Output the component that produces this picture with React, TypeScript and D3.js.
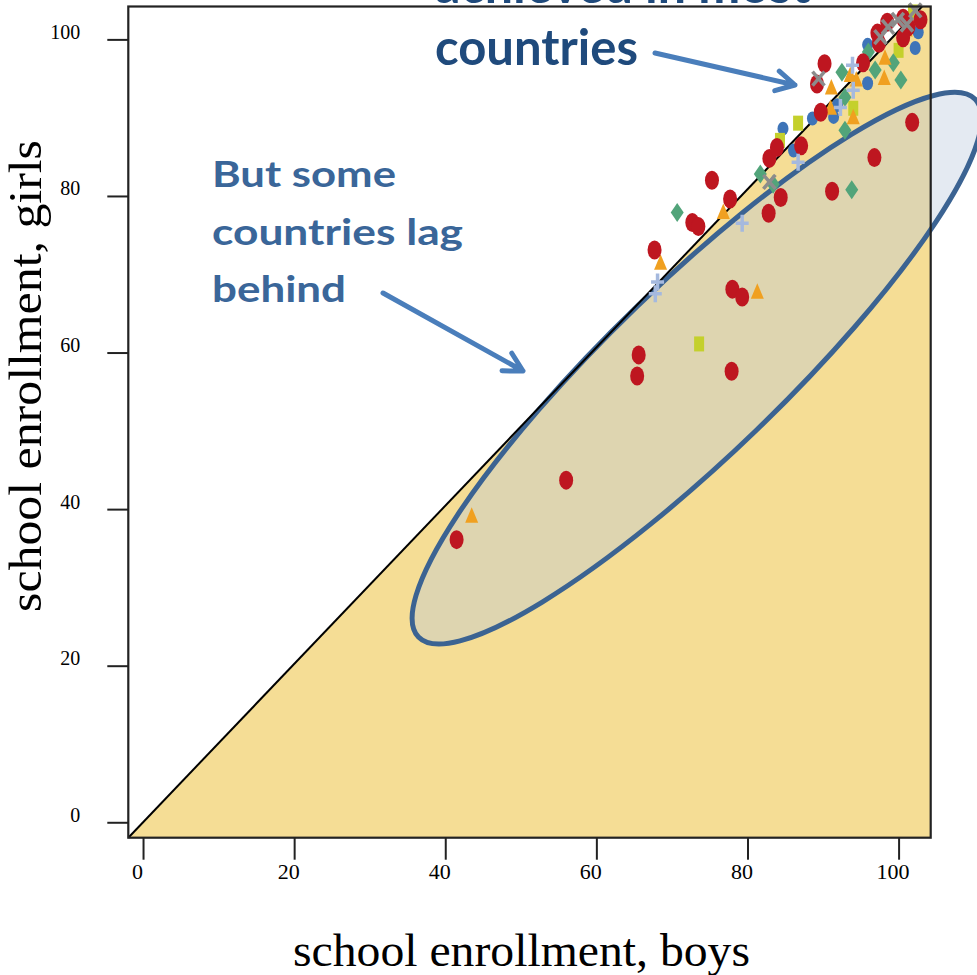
import React, { useEffect, useRef } from 'react'
import * as d3 from 'd3'

// axis ticks
const xTicks = [0, 20, 40, 60, 80, 100]
const yTicks = [0, 20, 40, 60, 80, 100]

// [boys, girls] enrollment per marker group
const redCircles = [
  [41.5, 36.1], [56.0, 43.7], [65.6, 59.7], [65.4, 57.0], [77.9, 57.6], [78.0, 68.1],
  [79.3, 67.1], [67.7, 73.1], [72.7, 76.6], [73.5, 76.1], [75.3, 82.0], [77.7, 79.6],
  [82.8, 77.8], [84.4, 79.8], [82.9, 84.8], [83.9, 86.2], [87.1, 86.4], [91.2, 80.6],
  [96.8, 84.9], [101.8, 89.4], [89.7, 90.7], [89.2, 94.3], [90.2, 96.9], [95.3, 97.0],
  [97.2, 100.8], [98.5, 102.2], [97.4, 99.5], [100.6, 102.7], [101.3, 101.6],
  [100.6, 100.2], [102.9, 102.5],
]
const blueCircles = [
  [84.7, 88.6], [86.1, 85.8], [88.6, 89.9], [91.4, 90.1], [91.9, 91.6], [95.9, 94.4],
  [95.9, 99.3], [102.2, 98.9], [102.6, 100.9],
]
const orangeTriangles = [
  [43.5, 39.1], [68.5, 71.4], [76.8, 77.9], [81.3, 67.7], [91.1, 93.8], [91.0, 91.2],
  [93.6, 95.4], [94.4, 94.8], [98.1, 95.0], [98.2, 97.6], [101.0, 101.2], [94.0, 90.0],
]
const limeSquares = [
  [73.6, 61.1], [86.7, 89.3], [94.0, 91.2], [84.3, 87.1], [100.0, 98.6], [101.9, 103.5],
]
const greenDiamonds = [
  [70.7, 77.9], [81.7, 82.8], [83.4, 81.5], [92.9, 88.4], [93.8, 80.8], [92.5, 95.8],
  [96.0, 98.4], [96.9, 96.1], [99.3, 97.0], [100.3, 94.8], [92.9, 92.6],
]
const lightPlus = [
  [68.1, 69.0], [67.8, 67.5], [79.3, 76.5], [86.7, 84.3], [92.3, 91.3], [93.9, 96.7],
  [94.0, 93.5],
]
const grayCross = [
  [89.4, 95.0], [82.9, 81.8], [97.6, 100.3], [98.6, 101.6], [99.9, 102.5], [101.1, 101.9],
  [102.2, 103.7],
]

export default function App() {
  const ref = useRef<SVGSVGElement>(null)

  useEffect(() => {
    const svg = d3.select(ref.current)
    svg.selectAll('*').remove()

    const x = d3.scaleLinear().domain([-1.95, 104.25]).range([128.3, 930.7])
    const y = d3.scaleLinear().domain([-1.97, 104.2]).range([837.7, 6.5])
    const [x0, x1] = x.range()
    const [y0, y1] = y.range()

    // yellow area under the parity line
    const topX = x(103.1)
    svg.append('path')
      .attr('d', `M${x0},${y0}L${topX},${y1}L${x1},${y1}L${x1},${y0}Z`)
      .attr('fill', '#f5dd95')

    // highlight ellipse
    const ec = { x: x(73.3), y: y(58.0) }
    svg.append('ellipse')
      .attr('transform', `translate(${ec.x},${ec.y}) rotate(-44)`)
      .attr('rx', 387).attr('ry', 86)
      .attr('fill', '#b8c8dc').attr('fill-opacity', 0.38)
      .attr('stroke', '#3b6392').attr('stroke-width', 5)

    svg.append('line')
      .attr('x1', x0).attr('y1', y0).attr('x2', topX).attr('y2', y1)
      .attr('stroke', '#000').attr('stroke-width', 2)

    // markers
    const pts = (data: number[][]) => svg.append('g').selectAll('g').data(data).enter()
      .append('g').attr('transform', d => `translate(${x(d[0])},${y(d[1])})`)

    pts(blueCircles).append('ellipse').attr('rx', 5.5).attr('ry', 7).attr('fill', '#3e74b8')
    pts(limeSquares).append('rect').attr('x', -5).attr('y', -7.5).attr('width', 10).attr('height', 15)
      .attr('fill', '#c4d02c')
    pts(greenDiamonds).append('path').attr('d', 'M0,-9.5L6.5,0L0,9.5L-6.5,0Z').attr('fill', '#52a47a')
    pts(orangeTriangles).append('path').attr('d', 'M0,-9L6.5,6.5L-6.5,6.5Z').attr('fill', '#f0a020')
    pts(redCircles).append('ellipse').attr('rx', 7).attr('ry', 9.5).attr('fill', '#be1620')
    pts(lightPlus).append('path').attr('d', 'M-6.5,0H6.5M0,-8.5V8.5')
      .attr('stroke', '#a5b9de').attr('stroke-width', 3.5).attr('fill', 'none')
    pts(grayCross).append('path').attr('d', 'M-6,-7L6,7M6,-7L-6,7')
      .attr('stroke', '#8c8c8c').attr('stroke-width', 3.5).attr('fill', 'none')

    // frame
    svg.append('rect')
      .attr('x', x0).attr('y', y1).attr('width', x1 - x0).attr('height', y0 - y1)
      .attr('fill', 'none').attr('stroke', '#222').attr('stroke-width', 2.2)

    const serif = '"Liberation Serif", "Times New Roman", serif'

    const xAxis = svg.append('g').attr('transform', `translate(0,${y0})`)
      .call(d3.axisBottom(x).tickValues(xTicks).tickSize(22).tickSizeOuter(0).tickPadding(4))
    xAxis.select('.domain').remove()
    xAxis.selectAll('line').attr('stroke', '#222').attr('stroke-width', 2)
    xAxis.selectAll('text').attr('x', -6).attr('fill', '#000')
      .attr('font-family', serif).attr('font-size', 22)

    const yAxis = svg.append('g').attr('transform', `translate(${x0},0)`)
      .call(d3.axisLeft(y).tickValues(yTicks).tickSize(21).tickSizeOuter(0).tickPadding(27))
    yAxis.select('.domain').remove()
    yAxis.selectAll('line').attr('stroke', '#222').attr('stroke-width', 2)
    yAxis.selectAll('text').attr('dy', '-0.05em').attr('fill', '#000')
      .attr('font-family', serif).attr('font-size', 20)

    // axis titles
    svg.append('text').attr('x', 521.5).attr('y', 966).attr('text-anchor', 'middle')
      .attr('font-family', serif).attr('font-size', 47)
      .attr('textLength', 457).attr('lengthAdjust', 'spacingAndGlyphs')
      .text('school enrollment, boys')
    svg.append('text').attr('transform', 'translate(41,376) rotate(-90)').attr('text-anchor', 'middle')
      .attr('font-family', serif).attr('font-size', 47)
      .attr('textLength', 472).attr('lengthAdjust', 'spacingAndGlyphs')
      .text('school enrollment, girls')

    // annotations
    const sans = 'Lato, "Open Sans", sans-serif'
    const note = (t: string, px: number, py: number, len: number, size: number, color: string) =>
      svg.append('text').attr('x', px).attr('y', py).attr('font-family', sans)
        .attr('font-weight', 700).attr('font-size', size).attr('fill', color)
        .attr('textLength', len).attr('lengthAdjust', 'spacingAndGlyphs').text(t)

    note('achieved in most', 435, 3, 375, 49, '#1f4a7c')
    note('countries', 435, 65, 203, 49, '#1f4a7c')
    note('But some', 212, 187, 184, 37, '#3a6699')
    note('countries lag', 212, 245, 251, 37, '#3a6699')
    note('behind', 212, 302, 134, 37, '#3a6699')

    const arrow = (sx: number, sy: number, tx: number, ty: number) => {
      const a = Math.atan2(ty - sy, tx - sx) + Math.PI
      const L = 21, s = 0.5
      const p1 = [tx + L * Math.cos(a - s), ty + L * Math.sin(a - s)]
      const p2 = [tx + L * Math.cos(a + s), ty + L * Math.sin(a + s)]
      svg.append('path')
        .attr('d', `M${sx},${sy}L${tx},${ty}M${p1[0]},${p1[1]}L${tx},${ty}L${p2[0]},${p2[1]}`)
        .attr('fill', 'none').attr('stroke', '#4a7ebb').attr('stroke-width', 5)
        .attr('stroke-linecap', 'round').attr('stroke-linejoin', 'round')
    }
    arrow(655, 53, 795, 85)
    arrow(383, 293, 523, 371)
  }, [])

  return (
    <svg ref={ref} width={977} height={975}
      style={{ position: 'absolute', left: 0, top: 0, background: '#fff' }} />
  )
}
